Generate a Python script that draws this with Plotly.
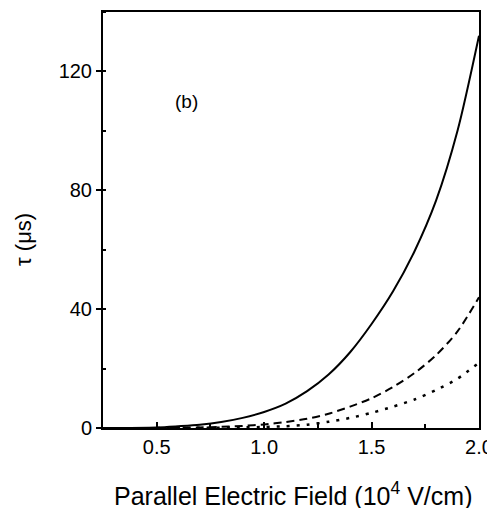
import plotly.graph_objects as go

# curve values (field in 10^4 V/cm, tau in microseconds)
field_solid = [0.25, 0.5, 0.6, 0.7, 0.8, 0.9, 1.0, 1.1, 1.2, 1.3, 1.4, 1.5, 1.6, 1.7, 1.8, 1.9, 2.0]
tau_solid = [0.0, 0.2, 0.6, 1.1, 2.0, 3.4, 5.4, 8.2, 12.4, 18.0, 25.5, 35.0, 46.0, 59.5, 76.5, 100.0, 132.0]

field_dash = [0.5, 0.6, 0.7, 0.8, 0.9, 1.0, 1.1, 1.2, 1.3, 1.4, 1.5, 1.6, 1.7, 1.8, 1.9, 2.0]
tau_dash = [0.0, 0.05, 0.2, 0.4, 0.7, 1.2, 2.0, 3.1, 4.8, 7.2, 10.0, 13.8, 18.5, 24.5, 32.5, 44.0]

field_dot = [0.5, 0.7, 0.9, 1.0, 1.1, 1.2, 1.3, 1.4, 1.5, 1.6, 1.7, 1.8, 1.9, 2.0]
tau_dot = [0.0, 0.05, 0.2, 0.35, 0.6, 1.1, 2.1, 3.4, 5.1, 7.2, 9.6, 12.8, 16.6, 22.0]

x_ticks = [0.5, 1.0, 1.5, 2.0]
y_ticks = [0, 40, 80, 120]

FONT = "Liberation Sans, Arial, sans-serif"

fig = go.Figure()
fig.add_trace(go.Scatter(x=field_solid, y=tau_solid, mode="lines",
                         line=dict(color="black", width=2, shape="spline", smoothing=0.8)))
fig.add_trace(go.Scatter(x=field_dash, y=tau_dash, mode="lines",
                         line=dict(color="black", width=2, dash="8px,5px", shape="spline", smoothing=0.8)))
fig.add_trace(go.Scatter(x=field_dot, y=tau_dot, mode="lines",
                         line=dict(color="black", width=2.5, dash="3px,7px", shape="spline", smoothing=0.8)))

# panel label
fig.add_annotation(x=0.64, y=110, text="(b)", showarrow=False,
                   font=dict(family=FONT, size=19, color="black"))

# axis titles placed as annotations for exact positioning
fig.add_annotation(xref="paper", yref="paper", x=0.505, y=-0.159,
                   xanchor="center", yanchor="middle", showarrow=False,
                   text="Parallel Electric Field (10<sup>4</sup> V/cm)",
                   font=dict(family=FONT, size=25, color="black"))
fig.add_annotation(xref="paper", yref="paper", x=0, y=0.452, xshift=-79,
                   xanchor="center", yanchor="middle", showarrow=False, textangle=-90,
                   text="τ (μs)", font=dict(family=FONT, size=22, color="black"))

axis_font = dict(family=FONT, size=20, color="black")

fig.update_xaxes(
    range=[0.25, 2.0], tickvals=x_ticks, ticktext=["0.5", "1.0", "1.5", "2.0"],
    ticks="inside", ticklen=6, tickwidth=1.5, tickcolor="black",
    minor=dict(dtick=0.25, tick0=0.25, ticks="inside", ticklen=4, tickcolor="black"),
    showline=True, linecolor="black", linewidth=2, mirror=True,
    showgrid=False, zeroline=False, tickfont=axis_font, automargin=False,
)
fig.update_yaxes(
    range=[0, 140], tickvals=y_ticks,
    ticks="outside", ticklen=5, tickwidth=1.5, tickcolor="black",
    minor=dict(dtick=20, tick0=0, ticks="inside", ticklen=3, tickcolor="black"),
    showline=True, linecolor="black", linewidth=2, mirror=True,
    showgrid=False, zeroline=False, tickfont=axis_font, automargin=False,
)

# the page body adds an 8px offset, so the figure is sized to fit the window
fig.update_layout(
    width=487, height=500,
    margin=dict(l=95, r=16, t=4, b=80),
    plot_bgcolor="white", paper_bgcolor="white",
    showlegend=False,
)

fig.write_html("out.html")
